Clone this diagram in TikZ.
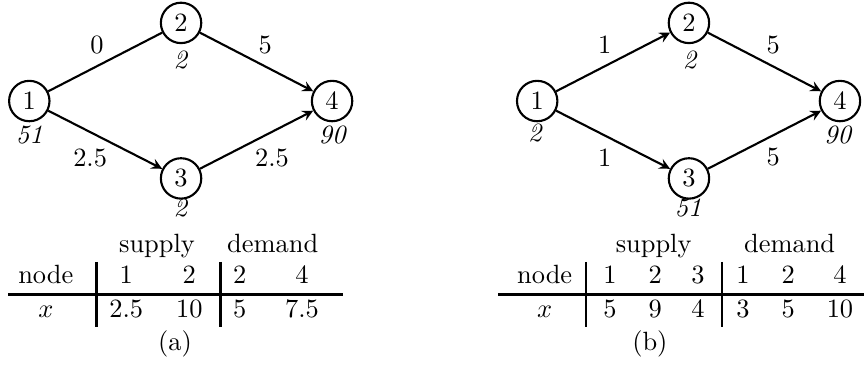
\documentclass[tikz,border=0pt]{standalone}
\usetikzlibrary{arrows}

\tikzset{
  vertex/.style={circle, draw, thick, inner sep=0pt, minimum size=15.3pt},
  arc/.style={thick, ->, >=stealth},
  netval/.style={font=\itshape},
  cell/.style={inner sep=0pt, text height=1.5ex, text depth=.25ex},
  rule/.style={line width=1.1pt}
}

\begin{document}
\begin{tikzpicture}
\useasboundingbox (0,0) rectangle (11.5,5.005);
% (a)
\node[vertex] (a1) at (0.39,3.66) {1};
\node[vertex] (a2) at (2.41,4.70) {2};
\node[vertex] (a3) at (2.41,2.63) {3};
\node[vertex] (a4) at (4.42,3.66) {4};
\draw[thick] (a1) -- (a2);
\draw[arc] (a1) -- (a3);
\draw[arc] (a2) -- (a4);
\draw[arc] (a3) -- (a4);
\node (fa12) at (1.29,4.41) {0};
\node (fa24) at (3.53,4.41) {5};
\node (fa13) at (1.20,2.90) {2.5};
\node (fa34) at (3.62,2.90) {2.5};
\node[netval] (va1) at (0.39,3.21) {51};
\node[netval] (va2) at (2.40,4.21) {2};
\node[netval] (va3) at (2.40,2.24) {2};
\node[netval] (va4) at (4.42,3.21) {90};
% table (a)
\node[cell] (ta-s) at (2.09,1.74) {supply};
\node[cell] (ta-d) at (3.63,1.74) {demand};
\node[cell] (ta-h) at (0.61,1.32) {node};
\node[cell] (ta-x) at (0.61,0.88) {$x$};
\foreach \x/\n/\v [count=\i] in {1.68/1/2.5, 2.52/2/10, 3.19/2/5, 4.02/4/7.5} {
  \node[cell] (ta-n\i) at (\x,1.32) {\n};
  \node[cell] (ta-v\i) at (\x,0.88) {\v};
}
\draw[rule] (0.11,1.09) -- (4.57,1.09);
\draw[rule] (1.29,1.52) -- (1.29,0.65);
\draw[rule] (2.94,1.52) -- (2.94,0.65);
\node (capa) at (2.33,0.43) {(a)};
% (b)
\node[vertex] (b1) at (7.15,3.66) {1};
\node[vertex] (b2) at (9.17,4.70) {2};
\node[vertex] (b3) at (9.17,2.63) {3};
\node[vertex] (b4) at (11.18,3.66) {4};
\draw[arc] (b1) -- (b2);
\draw[arc] (b1) -- (b3);
\draw[arc] (b2) -- (b4);
\draw[arc] (b3) -- (b4);
\node (fb12) at (8.05,4.41) {1};
\node (fb24) at (10.29,4.41) {5};
\node (fb13) at (8.05,2.91) {1};
\node (fb34) at (10.29,2.91) {5};
\node[netval] (vb1) at (7.12,3.23) {2};
\node[netval] (vb2) at (9.18,4.21) {2};
\node[netval] (vb3) at (9.16,2.24) {51};
\node[netval] (vb4) at (11.15,3.21) {90};
% table (b)
\node[cell] (tb-s) at (8.70,1.74) {supply};
\node[cell] (tb-d) at (10.51,1.74) {demand};
\node[cell] (tb-h) at (7.25,1.32) {node};
\node[cell] (tb-x) at (7.25,0.88) {$x$};
\foreach \x/\n/\v [count=\i] in {8.12/1/5, 8.72/2/9, 9.29/3/4, 9.89/1/3, 10.49/2/5, 11.18/4/10} {
  \node[cell] (tb-n\i) at (\x,1.32) {\n};
  \node[cell] (tb-v\i) at (\x,0.88) {\v};
}
\draw[rule] (6.63,1.09) -- (11.5,1.09);
\draw[rule] (7.80,1.52) -- (7.80,0.65);
\draw[rule] (9.61,1.52) -- (9.61,0.65);
\node (capb) at (8.65,0.43) {(b)};
\end{tikzpicture}
\end{document}
